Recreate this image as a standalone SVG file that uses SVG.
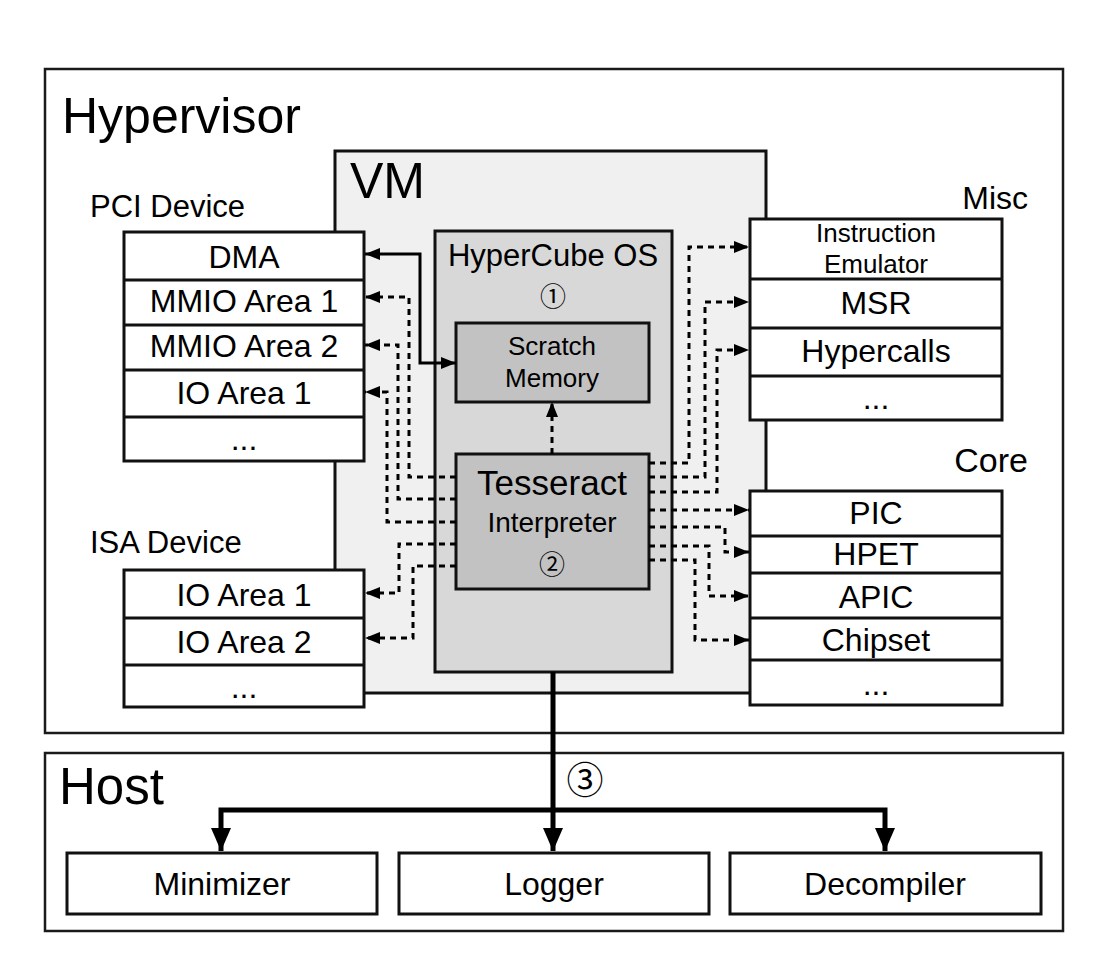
<svg xmlns="http://www.w3.org/2000/svg" width="1104" height="960" viewBox="0 0 1104 960">
<style>
text{font-family:"Liberation Sans","Noto Sans",sans-serif;fill:#000}
.c{text-anchor:middle}
.e{text-anchor:end}
.num{font-family:"Noto Sans CJK JP","DejaVu Sans",sans-serif}
.frame{fill:#fff;stroke:#1a1a1a;stroke-width:2.5}
.box{fill:#fff;stroke:#111;stroke-width:3}
.div{stroke:#111;stroke-width:3}
.dot{fill:none;stroke:#000;stroke-width:3;stroke-dasharray:6 5;marker-end:url(#ah)}
.solid{fill:none;stroke:#000;stroke-width:3}
.thick{fill:none;stroke:#000;stroke-width:5}
.big{font-size:32px}
.mid{font-size:31px}
</style>
<defs>
<marker id="ah" markerUnits="userSpaceOnUse" markerWidth="16" markerHeight="12" refX="15" refY="6" orient="auto-start-reverse">
<path d="M0,0 L15,6 L0,12 Z" fill="#000"/>
</marker>
<marker id="bh" markerUnits="userSpaceOnUse" markerWidth="24" markerHeight="20" refX="23" refY="10" orient="auto">
<path d="M0,0 L23,10 L0,20 Z" fill="#000"/>
</marker>
</defs>
<rect width="1104" height="960" fill="#fff"/>

<g id="hypervisor">
<rect class="frame" x="45" y="69" width="1018" height="664"/>
<text x="62" y="133" style="font-size:50px">Hypervisor</text>
</g>
<g id="host">
<rect class="frame" x="45" y="753" width="1018" height="178"/>
<text x="59" y="804" style="font-size:51px">Host</text>
</g>
<g id="vm">
<rect x="335" y="151" width="431" height="542" fill="#f0f0f0" stroke="#111" stroke-width="3"/>
<text x="350" y="198" style="font-size:50px">VM</text>
</g>
<g id="hypercube-os">
<rect x="435" y="231" width="237" height="441" fill="#d8d8d8" stroke="#111" stroke-width="3"/>
<text class="c" x="553" y="266" style="font-size:31px">HyperCube OS</text>
<text class="c num" x="553" y="306" style="font-size:26px">①</text>
</g>
<g id="scratch-memory">
<rect x="456" y="323" width="193" height="79" fill="#c2c2c2" stroke="#111" stroke-width="3"/>
<text class="c" x="552" y="355" style="font-size:26px">Scratch</text>
<text class="c" x="552" y="387" style="font-size:26px">Memory</text>
</g>
<g id="tesseract">
<rect x="456" y="454" width="193" height="135" fill="#c2c2c2" stroke="#111" stroke-width="3"/>
<text class="c" x="552" y="495" style="font-size:35px">Tesseract</text>
<text class="c" x="552" y="532" style="font-size:28px">Interpreter</text>
<text class="c num" x="552" y="574" style="font-size:26px">②</text>
</g>

<g id="connectors">
<path class="solid" d="M365,254 H420 V363 H456" marker-start="url(#ah)" marker-end="url(#ah)"/>
<path class="dot" d="M456,477 H409 V297 H365"/>
<path class="dot" d="M456,499 H398 V345 H365"/>
<path class="dot" d="M456,522 H387 V392 H365"/>
<path class="dot" d="M456,544 H399 V593 H365"/>
<path class="dot" d="M456,566 H413 V638 H365"/>
<path class="dot" d="M552,454 V402"/>
<path class="dot" d="M649,463 H689 V247 H749"/>
<path class="dot" d="M649,477 H705 V302 H749"/>
<path class="dot" d="M649,492 H717 V350 H749"/>
<path class="dot" d="M649,510 H749"/>
<path class="dot" d="M649,527 H725 V552 H749"/>
<path class="dot" d="M649,546 H709 V596 H749"/>
<path class="dot" d="M649,560 H695 V640 H749"/>
<path class="thick" d="M553,672 V851" marker-end="url(#bh)"/>
<path class="thick" d="M553,810 H221 V851" marker-end="url(#bh)"/>
<path class="thick" d="M553,810 H885 V851" marker-end="url(#bh)"/>
<text class="c num" x="585" y="794" style="font-size:37px">③</text>
</g>

<g id="pci-device">
<text x="90" y="217" class="mid">PCI Device</text>
<rect class="box" x="124" y="232" width="240" height="229"/>
<line class="div" x1="124" y1="280" x2="364" y2="280"/>
<line class="div" x1="124" y1="325" x2="364" y2="325"/>
<line class="div" x1="124" y1="370" x2="364" y2="370"/>
<line class="div" x1="124" y1="417" x2="364" y2="417"/>
<text class="c big" x="244" y="268">DMA</text>
<text class="c big" x="244" y="312">MMIO Area 1</text>
<text class="c big" x="244" y="357">MMIO Area 2</text>
<text class="c big" x="244" y="404">IO Area 1</text>
<text class="c big" x="244" y="450">...</text>
</g>

<g id="isa-device">
<text x="90" y="553" class="mid">ISA Device</text>
<rect class="box" x="124" y="570" width="240" height="137"/>
<line class="div" x1="124" y1="618" x2="364" y2="618"/>
<line class="div" x1="124" y1="665" x2="364" y2="665"/>
<text class="c big" x="244" y="606">IO Area 1</text>
<text class="c big" x="244" y="653">IO Area 2</text>
<text class="c big" x="244" y="698">...</text>
</g>

<g id="misc">
<text class="e" x="1028" y="209" style="font-size:32px">Misc</text>
<rect class="box" x="750" y="219" width="252" height="201"/>
<line class="div" x1="750" y1="279" x2="1002" y2="279"/>
<line class="div" x1="750" y1="328" x2="1002" y2="328"/>
<line class="div" x1="750" y1="376" x2="1002" y2="376"/>
<text class="c" x="876" y="242" style="font-size:26px">Instruction</text>
<text class="c" x="876" y="273" style="font-size:26px">Emulator</text>
<text class="c big" x="876" y="314">MSR</text>
<text class="c big" x="876" y="362">Hypercalls</text>
<text class="c big" x="876" y="409">...</text>
</g>

<g id="core">
<text class="e" x="1028" y="472" style="font-size:34px">Core</text>
<rect class="box" x="750" y="491" width="252" height="214"/>
<line class="div" x1="750" y1="536" x2="1002" y2="536"/>
<line class="div" x1="750" y1="573" x2="1002" y2="573"/>
<line class="div" x1="750" y1="618" x2="1002" y2="618"/>
<line class="div" x1="750" y1="660" x2="1002" y2="660"/>
<text class="c big" x="876" y="524">PIC</text>
<text class="c big" x="876" y="565">HPET</text>
<text class="c big" x="876" y="608">APIC</text>
<text class="c big" x="876" y="651">Chipset</text>
<text class="c big" x="876" y="695">...</text>
</g>

<g id="minimizer">
<rect class="box" x="67" y="853" width="310" height="61"/>
<text class="c big" x="222" y="895">Minimizer</text>
</g>
<g id="logger">
<rect class="box" x="399" y="853" width="310" height="61"/>
<text class="c big" x="554" y="895">Logger</text>
</g>
<g id="decompiler">
<rect class="box" x="730" y="853" width="311" height="61"/>
<text class="c big" x="885" y="895">Decompiler</text>
</g>
</svg>
